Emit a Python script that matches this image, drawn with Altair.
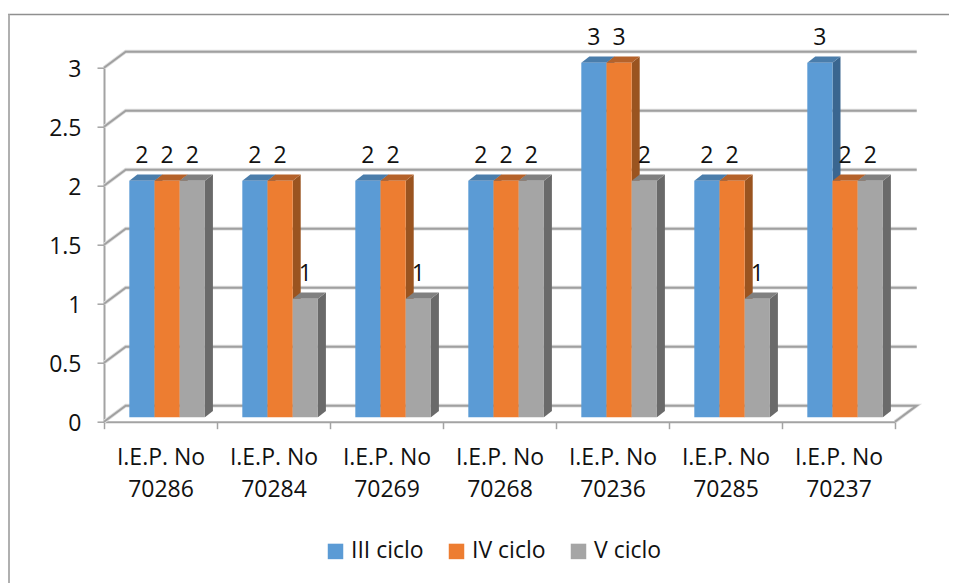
import altair as alt
import pandas as pd

categories = ["I.E.P. No 70286", "I.E.P. No 70284", "I.E.P. No 70269", "I.E.P. No 70268",
              "I.E.P. No 70236", "I.E.P. No 70285", "I.E.P. No 70237"]
series = ["III ciclo", "IV ciclo", "V ciclo"]
iii_ciclo = [2, 2, 2, 2, 3, 2, 3]
iv_ciclo = [2, 2, 2, 2, 3, 2, 2]
v_ciclo = [2, 1, 1, 2, 2, 1, 2]
values = [iii_ciclo, iv_ciclo, v_ciclo]
y_levels = [0, 0.5, 1, 1.5, 2, 2.5, 3]
front = ["#5B9BD5", "#ED7D31", "#A5A5A5"]
top = ["#4A7DAB", "#B5622A", "#808080"]
side = ["#3A6690", "#9A5420", "#6A6A6A"]

FONT = "Open Sans"
FS = 23
INK = "#111111"

WALL_DX, WALL_DY = 0.192, 0.136
BAR_DX, BAR_DY = 0.0708, 0.053
BAR_START, BAR_W = 0.224, 0.223
BASE = 0.037
LABEL_GAP = 0.25

bars, sides, tops = [], [], []
for s, vals in enumerate(values):
    for c, v in enumerate(vals):
        x0 = c + BAR_START + s * BAR_W
        x1 = x0 + BAR_W
        t = v + BASE + 0.005
        b = BASE
        bars.append(dict(series=series[s], cat=categories[c], x0=x0, x1=x1, xc=(x0 + x1) / 2,
                         b=b, t=t, v=v, ly=v + LABEL_GAP))
        sides += [dict(s=s, c=c, x=x1, y=b, y2=t),
                  dict(s=s, c=c, x=x1 + BAR_DX, y=b + BAR_DY, y2=t + BAR_DY)]
        tops += [dict(s=s, c=c, x=x0, y=t, y2=t),
                 dict(s=s, c=c, x=x0 + BAR_DX, y=t, y2=t + BAR_DY),
                 dict(s=s, c=c, x=x1, y=t, y2=t + BAR_DY),
                 dict(s=s, c=c, x=x1 + BAR_DX, y=t + BAR_DY, y2=t + BAR_DY)]
bars = pd.DataFrame(bars)
sides = pd.DataFrame(sides)
tops = pd.DataFrame(tops)

n = len(categories)
grid = []
for lv in y_levels:
    pts = [(0, lv), (WALL_DX, lv + WALL_DY), (n + WALL_DX, lv + WALL_DY)]
    if lv == 0:
        pts.append((n, lv))
    for i, (x, y) in enumerate(pts):
        grid.append(dict(level=lv, i=i, x=x, y=y))
grid = pd.DataFrame(grid)

xs = alt.Scale(domain=[0, n], nice=False, zero=False)
ys = alt.Scale(domain=[0, 3], nice=False, zero=False)
AX = "#A3A3A3"
yaxis = alt.Axis(values=y_levels, grid=False, title=None, tickSize=7, tickColor=AX, domainColor=AX,
                 tickWidth=1.5, domainWidth=2, labelFontSize=FS, labelFont=FONT, labelColor=INK,
                 labelPadding=16, labelOffset=2, labelExpr="datum.value", labelBound=False,
                 labelFlush=False)


def X(f):
    return alt.X(f, type="quantitative", scale=xs, axis=None)


def Y(f):
    return alt.Y(f, type="quantitative", scale=ys, axis=yaxis)


shadow = alt.Chart(grid).mark_line(color="#DDDDDD", strokeWidth=3.6, strokeJoin="miter").encode(
    x=X("x"), y=Y("y"), detail="level:N", order="i:Q")
lines = alt.Chart(grid).mark_line(color="#A0A0A0", strokeWidth=2, strokeJoin="miter").encode(
    x=X("x"), y=Y("y"), detail="level:N", order="i:Q")

layers = [shadow, lines]
for s in range(len(series)):
    layers.append(alt.Chart(sides[sides.s == s]).mark_area(color=side[s], orient="vertical").encode(
        x=X("x"), y=Y("y"), y2="y2:Q", detail="c:N"))
    layers.append(alt.Chart(tops[tops.s == s]).mark_area(color=top[s], orient="vertical").encode(
        x=X("x"), y=Y("y"), y2="y2:Q", detail="c:N"))

fronts = alt.Chart(bars).mark_rect().encode(
    x=X("x0"), x2="x1:Q", y=Y("b"), y2="t:Q",
    color=alt.Color("series:N", sort=series, scale=alt.Scale(domain=series, range=front),
                    legend=alt.Legend(orient="none", legendX=220, legendY=472, direction="horizontal",
                                      title=None, padding=0, symbolType="square", symbolSize=240,
                                      symbolStrokeWidth=0, labelFontSize=FS, labelFont=FONT,
                                      labelColor=INK, labelOffset=4, columnPadding=21,
                                      labelLimit=0)))
labels = alt.Chart(bars).mark_text(fontSize=FS, font=FONT, color=INK, baseline="middle").encode(
    x=X("xc"), y=Y("ly"), text="v:Q")

quant = alt.layer(*layers, fronts, labels)

cat_axis = alt.Chart(pd.DataFrame({"cat": categories})).mark_bar(opacity=0).encode(
    x=alt.X("cat:N", sort=categories, title=None, scale=alt.Scale(paddingInner=0, paddingOuter=0),
            axis=alt.Axis(tickBand="extent", tickSize=7, tickColor=AX, domainColor=AX, tickWidth=1.5,
                          domainWidth=2, labelAngle=0, labelFontSize=FS, labelFont=FONT,
                          labelColor=INK, labelPadding=18, labelLineHeight=32, labelLimit=0,
                          labelExpr="[substring(datum.label,0,9), substring(datum.label,10)]")))

frame_top = alt.Chart(pd.DataFrame({"k": [0]})).mark_rule(color="#8F8F8F", strokeWidth=1.5).encode(
    x=alt.value(-96), x2=alt.value(845), y=alt.value(-53.2))
frame_left = alt.Chart(pd.DataFrame({"k": [0]})).mark_rule(color="#B0B0B0", strokeWidth=2).encode(
    x=alt.value(-95), y=alt.value(-53.2), y2=alt.value(520))

chart = alt.layer(cat_axis, quant, frame_top, frame_left).resolve_scale(x="independent").properties(
    width=791, height=354, autosize="none",
    padding={"left": 96, "top": 59.7, "right": 54, "bottom": 161},
).configure_view(stroke=None)

chart.save("out.html", embed_options={"renderer": "svg", "actions": False})
